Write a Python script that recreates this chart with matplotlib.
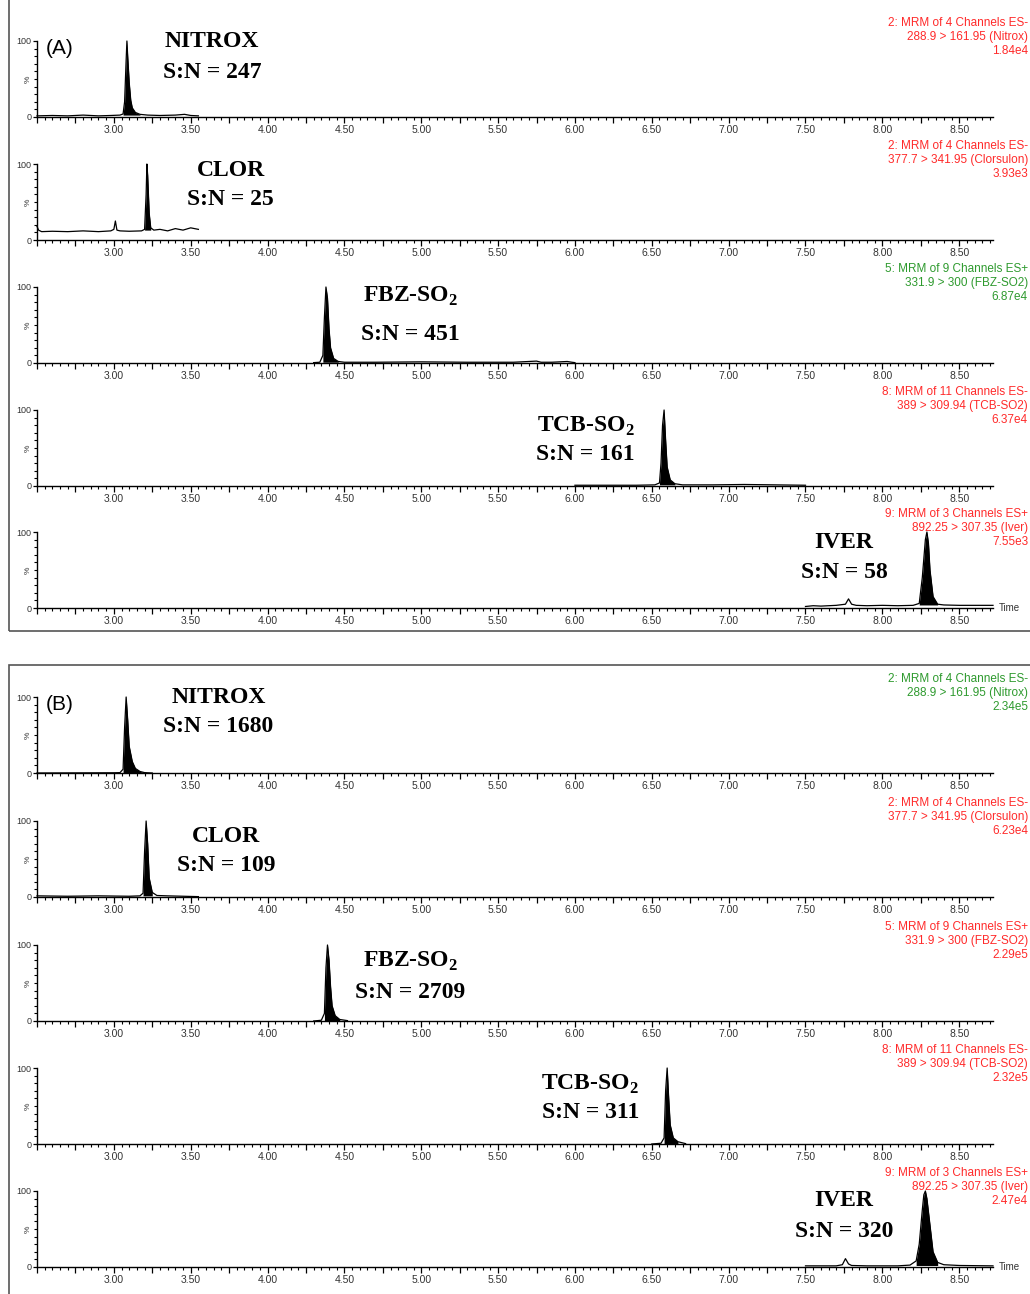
import matplotlib.pyplot as plt
from matplotlib.patches import Rectangle
from matplotlib.ticker import MultipleLocator, FixedLocator, FuncFormatter
import numpy as np

plt.rcParams['font.family'] = ['Liberation Sans', 'DejaVu Sans']
plt.rcParams['mathtext.fontset'] = 'custom'
plt.rcParams['mathtext.bf'] = 'Liberation Serif:bold'
plt.rcParams['mathtext.rm'] = 'Liberation Serif:bold'

# ---- (A) chromatograms: retention time (min) and relative intensity (%) ----
a_nitrox_t = [2.50, 2.60, 2.70, 2.80, 2.90, 2.98, 3.04, 3.06, 3.07, 3.08, 3.085, 3.09, 3.10, 3.11,
              3.12, 3.14, 3.17, 3.22, 3.30, 3.40, 3.46, 3.50, 3.55]
a_nitrox_y = [1.5, 2.0, 1.5, 2.5, 1.5, 2.0, 2.5, 4, 20, 75, 100, 80, 45, 22,
              12, 6, 3.5, 2.5, 2.0, 2.5, 3.5, 2.0, 1.5]
a_clor_t = [2.50, 2.51, 2.53, 2.60, 2.70, 2.80, 2.90, 2.98, 3.00, 3.01, 3.02, 3.04, 3.10, 3.18,
            3.20, 3.21, 3.215, 3.22, 3.23, 3.24, 3.26, 3.30, 3.35, 3.40, 3.45, 3.50, 3.55]
a_clor_y = [18, 13, 11, 11.5, 11, 12, 11, 12, 14, 25, 13, 12, 11.5, 12,
            14, 60, 100, 85, 35, 16, 13, 14, 12, 15, 13, 16, 14]
a_fbz_t = [4.30, 4.34, 4.36, 4.37, 4.38, 4.39, 4.40, 4.41, 4.43, 4.46, 4.50, 4.70, 5.00, 5.30,
           5.60, 5.75, 5.78, 5.85, 5.95, 5.98, 6.00]
a_fbz_y = [0.5, 1, 10, 60, 100, 85, 45, 20, 6, 2, 1, 1, 1.5, 1,
           1, 2.5, 1, 1, 2, 1, 0.5]
a_tcb_t = [6.00, 6.20, 6.40, 6.52, 6.55, 6.56, 6.57, 6.58, 6.59, 6.60, 6.62, 6.65, 6.70, 6.90,
           7.10, 7.30, 7.50]
a_tcb_y = [1, 1, 1, 1.5, 4, 30, 80, 100, 60, 25, 8, 3, 1.5, 1.5, 2, 1.5, 1]
a_iver_t = [7.50, 7.55, 7.60, 7.70, 7.76, 7.78, 7.80, 7.83, 7.90, 8.00, 8.10, 8.20, 8.24, 8.26,
            8.28, 8.29, 8.30, 8.31, 8.33, 8.36, 8.40, 8.50, 8.60, 8.72]
a_iver_y = [2, 3, 2.5, 3.5, 5, 12, 5, 3.5, 3, 3.5, 3, 3.5, 6, 40,
            90, 100, 85, 50, 15, 5, 4, 3.5, 3.5, 3.5]

# ---- (B) chromatograms ----
b_nitrox_t = [2.50, 3.00, 3.04, 3.06, 3.07, 3.08, 3.09, 3.10, 3.12, 3.14, 3.17, 3.20, 3.25]
b_nitrox_y = [0, 0.3, 0.5, 5, 60, 100, 70, 35, 15, 6, 2, 0.5, 0]
b_clor_t = [2.50, 2.70, 2.90, 3.10, 3.17, 3.19, 3.20, 3.21, 3.22, 3.23, 3.25, 3.28, 3.35, 3.45, 3.55]
b_clor_y = [1.5, 1, 1.5, 1, 1.5, 5, 60, 100, 70, 25, 6, 2, 1.5, 1, 0.5]
b_fbz_t = [4.30, 4.35, 4.37, 4.38, 4.39, 4.40, 4.41, 4.42, 4.44, 4.47, 4.52]
b_fbz_y = [0, 1, 10, 70, 100, 80, 45, 20, 7, 2, 0.5]
b_tcb_t = [6.50, 6.56, 6.58, 6.59, 6.60, 6.61, 6.62, 6.64, 6.67, 6.72]
b_tcb_y = [0, 1, 8, 70, 100, 60, 25, 8, 3, 0.5]
b_iver_t = [7.50, 7.60, 7.70, 7.74, 7.76, 7.78, 7.80, 7.90, 8.00, 8.10, 8.18, 8.22, 8.24, 8.26,
            8.27, 8.28, 8.29, 8.31, 8.33, 8.36, 8.40, 8.50, 8.72]
b_iver_y = [1.5, 1.5, 1.5, 3, 11, 4, 2, 1.5, 1.5, 1.5, 2.5, 8, 30, 75,
            95, 100, 90, 55, 20, 6, 3, 2, 1.5]

# integration windows (start, end, baseline level)
a_windows = [(3.06, 3.17, 2.5), (3.20, 3.24, 13), (4.36, 4.46, 1), (6.55, 6.65, 1.5), (8.24, 8.36, 4)]
b_windows = [(3.06, 3.20, 0), (3.19, 3.25, 1.5), (4.37, 4.47, 0), (6.58, 6.67, 0), (8.22, 8.36, 2)]

names = ["NITROX", "CLOR", "FBZ-SO$_\\mathbf{2}$", "TCB-SO$_\\mathbf{2}$", "IVER"]
a_sn = [247, 25, 451, 161, 58]
b_sn = [1680, 109, 2709, 311, 320]

# label positions (time, intensity) for name line and S:N line
a_label_pos = [(3.64, 99, 59), (3.76, 91, 53), (4.93, 87, 38), (6.07, 78, 41), (7.75, 86, 47)]
b_label_pos = [(3.68, 100, 61), (3.73, 80, 41), (4.93, 79, 38), (6.10, 79, 42), (7.75, 87, 47)]

channels = ["2: MRM of 4 Channels ES-\n288.9 > 161.95 (Nitrox)",
            "2: MRM of 4 Channels ES-\n377.7 > 341.95 (Clorsulon)",
            "5: MRM of 9 Channels ES+\n331.9 > 300 (FBZ-SO2)",
            "8: MRM of 11 Channels ES-\n389 > 309.94 (TCB-SO2)",
            "9: MRM of 3 Channels ES+\n892.25 > 307.35 (Iver)"]
a_scale = ["1.84e4", "3.93e3", "6.87e4", "6.37e4", "7.55e3"]
b_scale = ["2.34e5", "6.23e4", "2.29e5", "2.32e5", "2.47e4"]
RED, GREEN = "#ff2a2a", "#2e9a2e"
a_colors = [RED, RED, GREEN, RED, RED]
b_colors = [GREEN, RED, RED, RED, RED]

# pixel rows of the zero line of each trace
a_zero_px = [117, 240, 363, 486, 608]
b_zero_px = [773, 897, 1021, 1144, 1267]

W, H = 1030, 1294
X0, X1, AX_H = 37, 993, 76

fig = plt.figure(figsize=(W / 100, H / 100), dpi=100)


def time_fmt(v, pos):
    if v < 2.9:
        return ""
    return f"{v:.2f}" if abs(v * 2 - round(v * 2)) < 1e-6 else ""


def draw_trace(zero_px, t, y, window, name, sn, pos, chan, scale, col, last):
    ax = fig.add_axes([X0 / W, 1 - zero_px / H, (X1 - X0) / W, AX_H / H])
    ax.set_xlim(2.5, 8.72)
    ax.set_ylim(0, 100)
    for s in ["top", "right"]:
        ax.spines[s].set_visible(False)
    for s in ["left", "bottom"]:
        ax.spines[s].set_linewidth(1.0)
    t = np.array(t)
    y = np.array(y)
    ax.plot(t, y, color="black", lw=0.9, clip_on=False)
    lo, hi, base = window
    ax.fill_between(t, y, base, where=(t >= lo) & (t <= hi), color="black", lw=0, clip_on=False)

    ax.xaxis.set_major_locator(MultipleLocator(0.25))
    ax.xaxis.set_minor_locator(MultipleLocator(0.05))
    ax.xaxis.set_major_formatter(FuncFormatter(time_fmt))
    ax.tick_params(axis="x", which="major", length=4, width=0.9, labelsize=7.5, pad=1.5, labelcolor="#333")
    ax.tick_params(axis="x", which="minor", length=2.2, width=0.8)
    ax.yaxis.set_major_locator(FixedLocator([0, 100]))
    ax.yaxis.set_minor_locator(MultipleLocator(10))
    ax.set_yticklabels(["0", "100"])
    ax.tick_params(axis="y", which="major", length=3, width=0.9, labelsize=6.5, pad=1, labelcolor="#333")
    ax.tick_params(axis="y", which="minor", length=2.5, width=0.8)
    ax.text(-0.006, 0.5, "%", transform=ax.transAxes, rotation=90, ha="right", va="center",
            fontsize=6, color="#333")

    x_lab, y_name, y_sn = pos
    ax.text(x_lab, y_name, name, ha="center", va="center", fontsize=17, fontweight="bold",
            family="Liberation Serif", clip_on=False)
    ax.text(x_lab, y_sn, f"S:N = {sn}", ha="center", va="center", fontsize=17, fontweight="bold",
            family="Liberation Serif", clip_on=False)

    top_px = zero_px - AX_H
    fig.text(1028 / W, 1 - (top_px - 24) / H, chan + "\n" + scale, ha="right", va="top",
             multialignment="right", fontsize=8.5, color=col, linespacing=1.2)
    if last:
        fig.text(999 / W, 1 - zero_px / H, "Time", fontsize=7, va="center", color="#333")
    return ax


a_traces = [(a_nitrox_t, a_nitrox_y), (a_clor_t, a_clor_y), (a_fbz_t, a_fbz_y),
            (a_tcb_t, a_tcb_y), (a_iver_t, a_iver_y)]
b_traces = [(b_nitrox_t, b_nitrox_y), (b_clor_t, b_clor_y), (b_fbz_t, b_fbz_y),
            (b_tcb_t, b_tcb_y), (b_iver_t, b_iver_y)]

for panel, traces, zeros, wins, sns, lpos, scales, cols in [
        ("(A)", a_traces, a_zero_px, a_windows, a_sn, a_label_pos, a_scale, a_colors),
        ("(B)", b_traces, b_zero_px, b_windows, b_sn, b_label_pos, b_scale, b_colors)]:
    for i in range(5):
        ax = draw_trace(zeros[i], traces[i][0], traces[i][1], wins[i], names[i], sns[i], lpos[i],
                        channels[i], scales[i], cols[i], i == 4)
        if i == 0:
            ax.text(2.56, 90, panel, fontsize=15, ha="left", va="center")

# panel frames
fig.add_artist(Rectangle((9 / W, 1 - 631 / H), 1.2, 1.0, transform=fig.transFigure,
                         fill=False, edgecolor="#555", lw=1.2))
fig.add_artist(Rectangle((9 / W, -0.5), 1.2, 0.5 + (1 - 665 / H), transform=fig.transFigure,
                         fill=False, edgecolor="#555", lw=1.2))

plt.savefig("out.png", dpi=100)
